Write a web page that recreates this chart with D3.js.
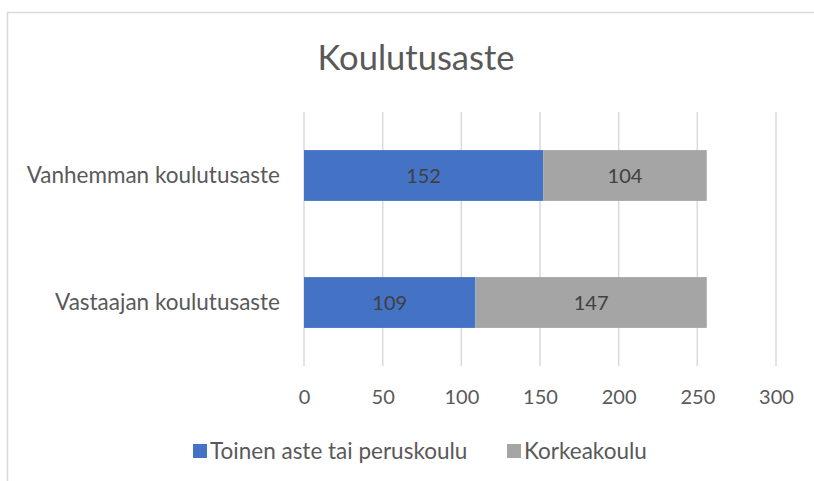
<!DOCTYPE html>
<html>
<head>
<meta charset="utf-8">
<script src="https://cdn.jsdelivr.net/npm/d3@7"></script>
<style>
  html, body { margin: 0; background: #fff; overflow: hidden; }
  svg { display: block; }
  text { font-family: Lato, "Open Sans", sans-serif; }
</style>
</head>
<body>
<svg id="chart" width="814" height="481"></svg>
<script>
// data
var categories = ["Vanhemman koulutusaste", "Vastaajan koulutusaste"];
var seriesNames = ["Toinen aste tai peruskoulu", "Korkeakoulu"];
var toinenAste = [152, 109];
var korkeakoulu = [104, 147];
var xTicks = [0, 50, 100, 150, 200, 250, 300];
var colors = ["#4472C4", "#A5A5A5"];

function run() {
  var svg = d3.select("#chart");

  // chart frame: only left + top edges fall inside the picture
  svg.append("path")
    .attr("d", "M7.5,481V12.5H814")
    .attr("fill", "none").attr("stroke", "#d9d9d9").attr("stroke-width", 1.5);

  var plot = { left: 304, right: 776, top: 112, bottom: 366 };

  var x = d3.scaleLinear().domain([0, 300]).range([plot.left, plot.right]);
  var y = d3.scaleBand().domain(categories).range([plot.top, plot.bottom])
    .paddingInner(0.6).paddingOuter(0.3);

  // title
  svg.append("text")
    .attr("x", 416).attr("y", 70)
    .attr("text-anchor", "middle")
    .style("font-size", "34.5px").style("fill", "#595959")
    .text("Koulutusaste");

  // gridlines
  svg.append("g").selectAll("line")
    .data(xTicks).enter().append("line")
    .attr("x1", function (d) { return x(d); })
    .attr("x2", function (d) { return x(d); })
    .attr("y1", plot.top).attr("y2", plot.bottom)
    .attr("stroke", "#d9d9d9").attr("stroke-width", 1.5);

  // stacked data
  var rows = categories.map(function (c, i) {
    return { cat: c, a: toinenAste[i], b: korkeakoulu[i] };
  });
  var stack = d3.stack().keys(["a", "b"])(rows);

  var layer = svg.append("g").selectAll("g")
    .data(stack).enter().append("g")
    .attr("fill", function (d, i) { return colors[i]; });

  layer.selectAll("rect")
    .data(function (d) { return d; }).enter().append("rect")
    .attr("x", function (d) { return x(d[0]); })
    .attr("width", function (d) { return x(d[1]) - x(d[0]); })
    .attr("y", function (d) { return y(d.data.cat); })
    .attr("height", y.bandwidth());

  // data labels
  layer.selectAll("text")
    .data(function (d) { return d; }).enter().append("text")
    .attr("x", function (d) { return (x(d[0]) + x(d[1])) / 2; })
    .attr("y", function (d) { return y(d.data.cat) + y.bandwidth() / 2; })
    .attr("dy", "0.35em")
    .attr("text-anchor", "middle")
    .style("font-size", "20px").style("fill", "#404040")
    .text(function (d) { return d[1] - d[0]; });

  // category axis labels
  svg.append("g").selectAll("text")
    .data(categories).enter().append("text")
    .attr("x", 280)
    .attr("y", function (d) { return y(d) + y.bandwidth() / 2; })
    .attr("dy", "0.35em")
    .attr("text-anchor", "end")
    .style("font-size", "22.5px").style("fill", "#595959")
    .text(function (d) { return d; });

  // value axis
  var xAxis = svg.append("g")
    .attr("transform", "translate(0," + plot.bottom + ")")
    .call(d3.axisBottom(x).tickValues(xTicks).tickSize(0).tickPadding(24));
  xAxis.select(".domain").remove();
  xAxis.selectAll("text")
    .style("font-family", "Lato, 'Open Sans', sans-serif")
    .style("font-size", "20px").style("fill", "#595959");

  // legend
  var legendX = [193, 507];
  var legend = svg.append("g").selectAll("g")
    .data(seriesNames).enter().append("g")
    .attr("transform", function (d, i) { return "translate(" + legendX[i] + ",451)"; });
  legend.append("rect")
    .attr("x", 0).attr("y", -7).attr("width", 14).attr("height", 14)
    .attr("fill", function (d, i) { return colors[i]; });
  legend.append("text")
    .attr("x", 17).attr("dy", "0.35em")
    .style("font-size", "22.5px").style("fill", "#595959")
    .text(function (d) { return d; });
}

run();
</script>
</body>
</html>
